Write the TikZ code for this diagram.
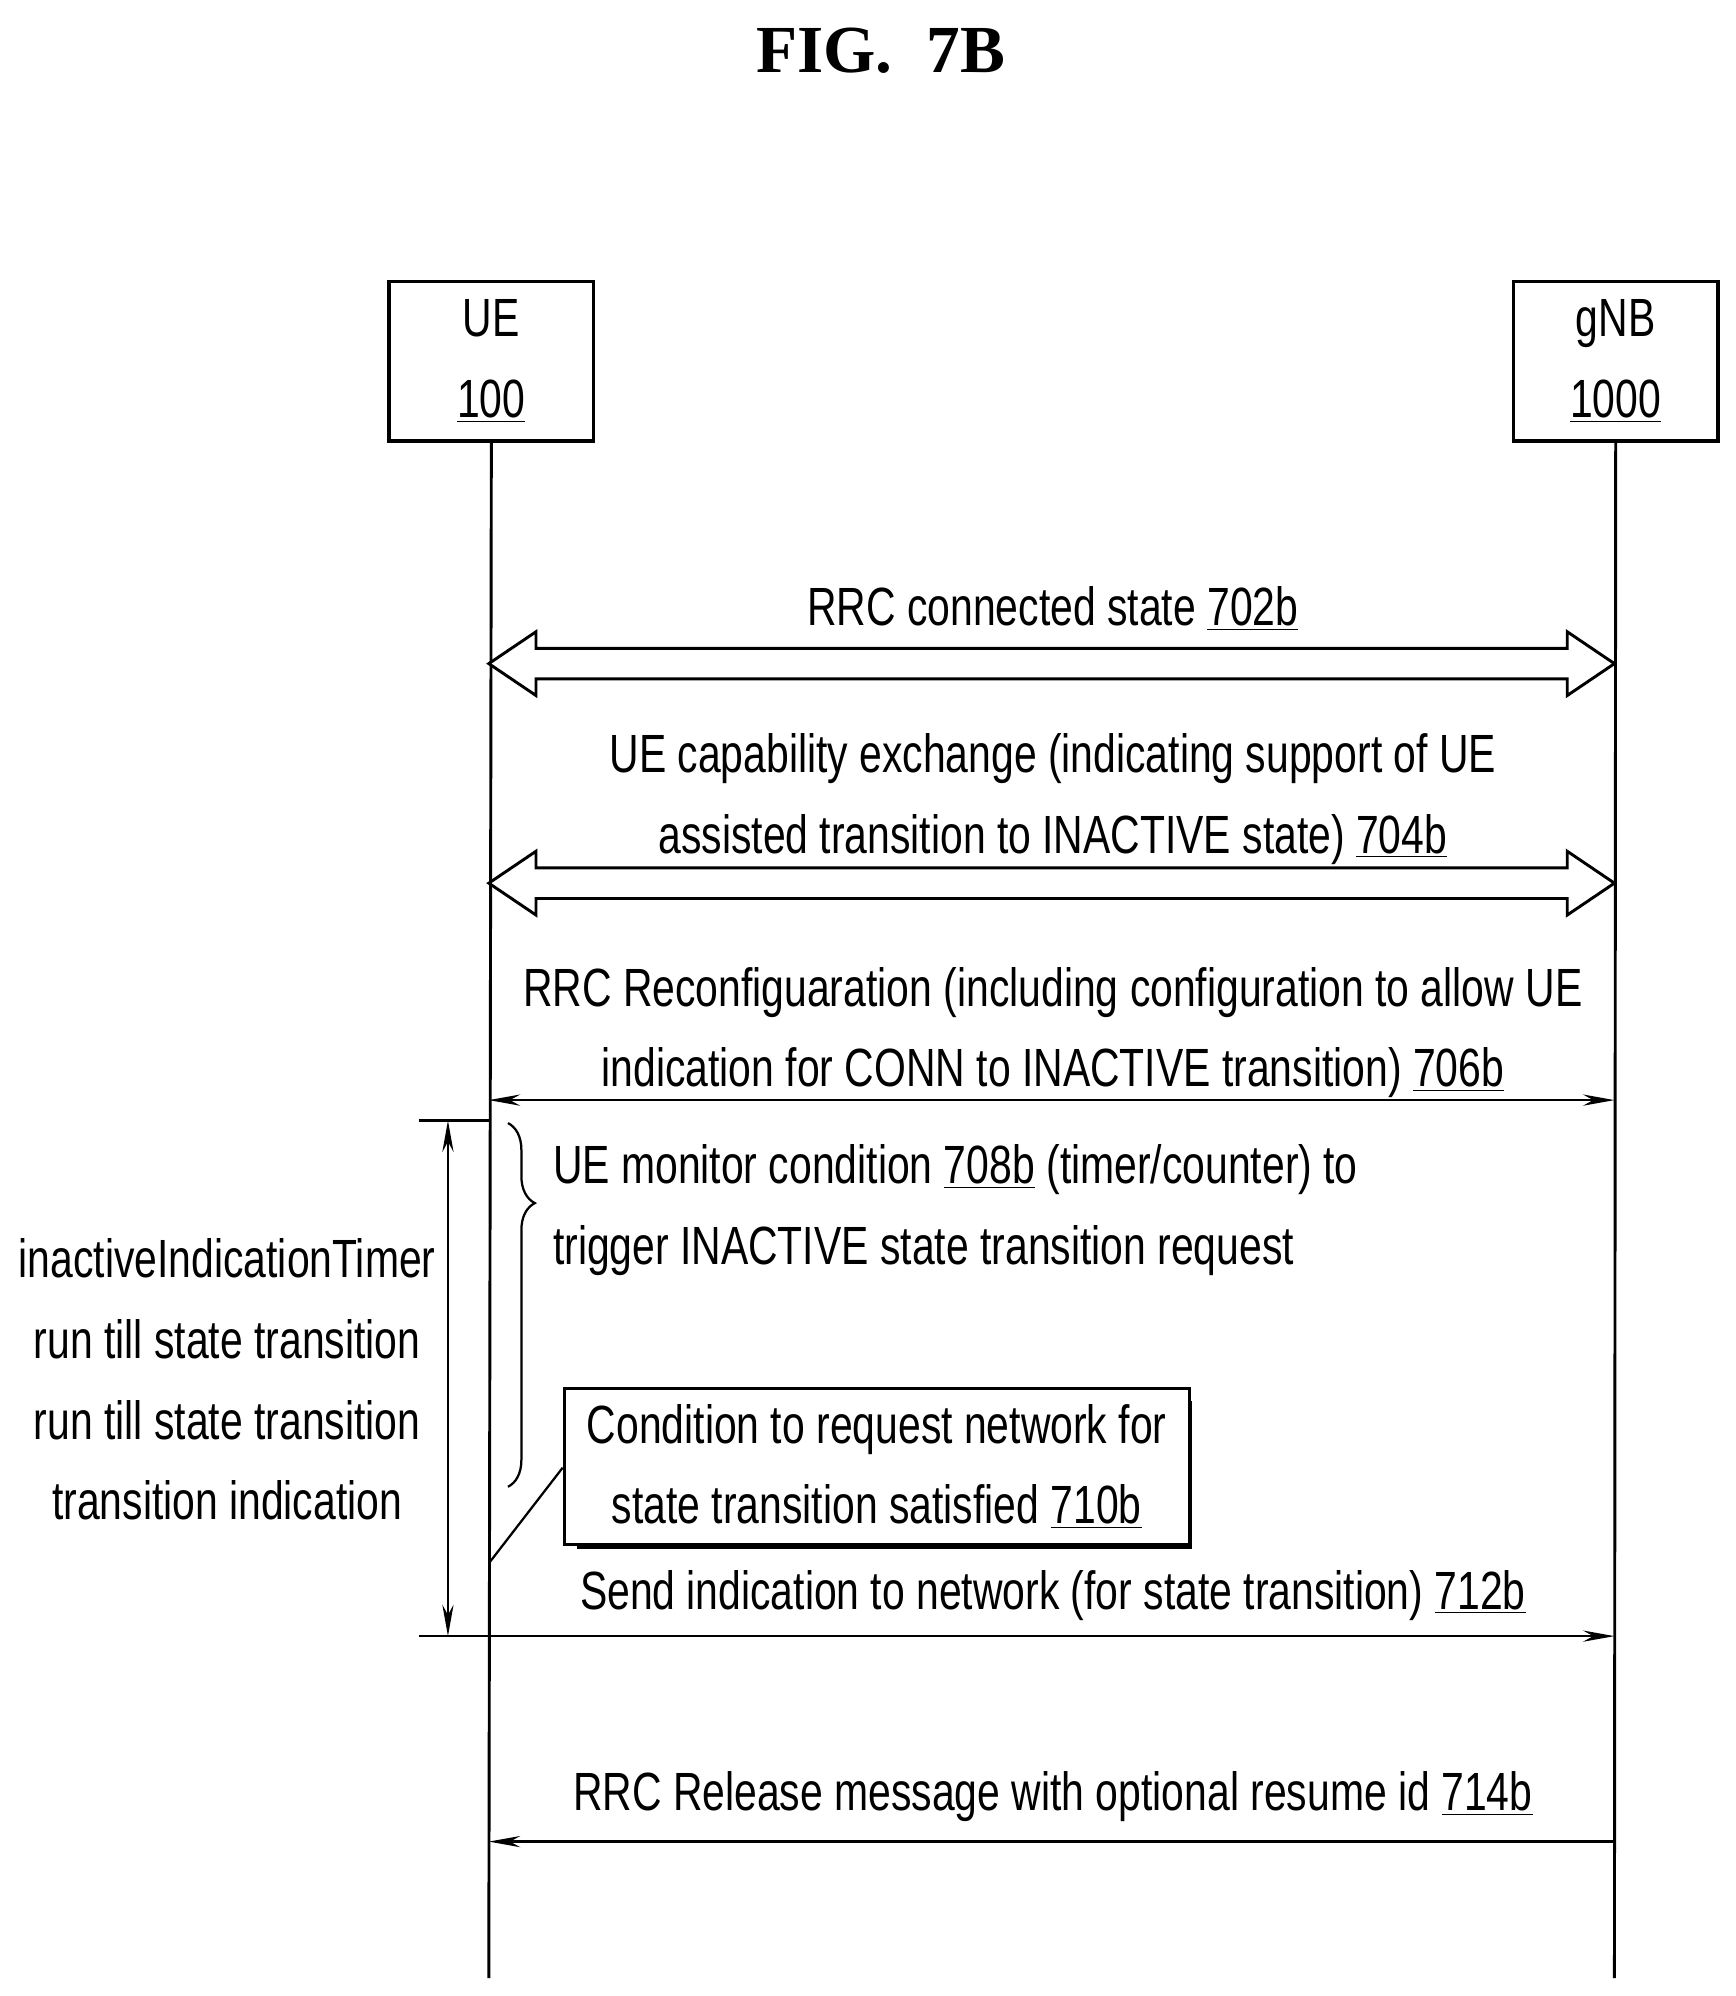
\documentclass[tikz,border=0pt]{standalone}
\usepackage{fontspec}
\setmainfont{Liberation Sans}[FakeStretch=0.76]
\newfontfamily\titlefont{Liberation Serif}
\usetikzlibrary{arrows.meta,decorations.pathreplacing,calc}

\tikzset{
  actor/.style={draw,line width=1.6pt,minimum width=3.2cm,minimum height=2.5cm,align=center,font=\fontsize{24}{36}\selectfont},
  lbl/.style={align=center,font=\fontsize{24}{36}\selectfont,inner sep=0pt},
  msg/.style={line width=1pt,-{Stealth[length=14pt,width=5pt]}},
  fat/.style={line width=1.3pt,fill=white}
}

\begin{document}
\begin{tikzpicture}[x=0.02cm,y=-0.02cm]
              \useasboundingbox (0,0) rectangle (1360,1564);
              \node[font=\titlefont\bfseries\fontsize{30}{30}\selectfont] (title) at (690,40) {FIG.\ \ 7B};

              \node[actor] (ue) at (385,283) {UE\\\underline{100}};
              \node[actor] (gnb) at (1266,283) {gNB\\\underline{1000}};
              \coordinate (ueend) at (383,1550);
              \coordinate (gnbend) at (1265,1550);
              \draw[line width=1.3pt] (ue.south) -- (ueend) (gnb.south) -- (gnbend);

              % hollow double arrows
              \foreach \y/\nm in {520/a, 692/b} {
                \coordinate (l\nm) at (383,\y);
                \coordinate (r\nm) at (1265,\y);
                \draw[fat] (l\nm) -- ++(37,-25) -- ++(0,13) -- ($(r\nm)+(-37,-12)$) -- ++(0,-13)
                  -- (r\nm) -- ++(-37,25) -- ++(0,-13) -- ($(l\nm)+(37,12)$) -- ++(0,13) -- cycle;
              }
              \node[lbl] (m702) at (825,477) {RRC connected state \underline{702b}};
              \node[lbl] (m704) at (825,626) {UE capability exchange (indicating support of UE\\assisted transition to INACTIVE state) \underline{704b}};

              \coordinate (l706) at (383,862);
              \coordinate (r706) at (1265,862);
              \draw[msg,{Stealth[length=14pt,width=5pt]}-{Stealth[length=14pt,width=5pt]}] (l706) -- (r706);
              \node[lbl] (m706) at (825,809) {RRC Reconfiguaration (including configuration to allow UE\\indication for CONN to INACTIVE transition) \underline{706b}};

              % timer span
              \coordinate (ttop) at (328,878);
              \coordinate (tbot) at (328,1282);
              \draw[line width=1pt] (ttop) -- (383,878);
              \draw[line width=1pt,{Stealth[length=14pt,width=5pt]}-{Stealth[length=14pt,width=5pt]}] (351,878) -- (351,1282);
              \node[lbl] (timer) at (178,1081) {inactiveIndicationTimer\\run till state transition\\run till state transition\\transition indication};

              \draw[line width=1pt,decoration={brace,amplitude=12pt,aspect=0.22},decorate] (398,880) -- (398,1165);
              \node[lbl,align=left,anchor=west] (m708) at (433,948) {UE monitor condition \underline{708b} (timer/counter) to\\trigger INACTIVE state transition request};

              \fill (452,1098) rectangle (934,1214);
              \node[draw,fill=white,line width=1.3pt,minimum width=9.8cm,minimum height=2.44cm,lbl,inner sep=0pt] (c710) at (687,1149) {Condition to request network for\\state transition satisfied \underline{710b}};
              \coordinate (tick) at (383,1225);
              \draw[line width=1pt] (tick) -- (c710.west |- 0,1150);

              \coordinate (l712) at (383,1282);
              \coordinate (r712) at (1265,1282);
              \draw[line width=1pt] (tbot) -- (l712);
              \draw[msg] (l712) -- (r712);
              \node[lbl] (m712) at (825,1250) {Send indication to network (for state transition) \underline{712b}};

              \coordinate (l714) at (383,1443);
              \coordinate (r714) at (1265,1443);
              \draw[msg] (r714) -- (l714);
              \node[lbl] (m714) at (825,1408) {RRC Release message with optional resume id \underline{714b}};
            \end{tikzpicture}
\end{document}
